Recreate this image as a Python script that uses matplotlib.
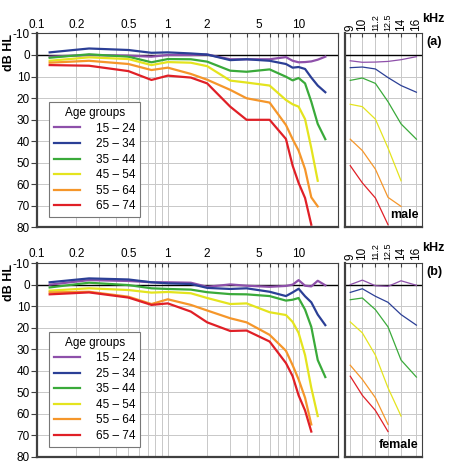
import matplotlib.pyplot as plt
from matplotlib.ticker import NullLocator

plt.rcParams['font.family'] = ['Liberation Sans', 'DejaVu Sans']
plt.rcParams['axes.unicode_minus'] = False

# audiometric frequencies (kHz)
freqs = [0.125, 0.25, 0.5, 0.75, 1, 1.5, 2, 3, 4, 6, 8, 9, 10, 11.2, 12.5, 14, 16]

age_groups = ["15 – 24", "25 – 34", "35 – 44", "45 – 54", "55 – 64", "65 – 74"]
colors = ["#8e50aa", "#2b3f96", "#3aaa3a", "#e4e41e", "#f5962a", "#e01f26"]

# male hearing thresholds (dB HL)
male_15_24 = [0.8, 0, 0.3, 0.8, 0, 0, -0.2, 2, 2, 2, 1, 2.7, 3.4, 3.3, 3.0, 2.2, 0.8]
male_25_34 = [-1.2, -3, -2.3, -1, -1.2, -0.7, -0.2, 2.4, 2, 2.7, 4.2, 5.9, 5.6, 6.5, 10.5, 14.2, 17.3]
male_35_44 = [1.3, -0.3, 0.8, 3.4, 1.9, 2, 3.1, 7.3, 7.8, 6.7, 10.1, 11.8, 10.7, 13.2, 21.7, 32, 39.1]
male_45_54 = [2.7, 1.1, 1.9, 4.7, 3.3, 3.6, 5.2, 11.9, 12.8, 14.2, 20.9, 22.9, 24, 29.8, 43.2, 58.4]
male_55_64 = [3.6, 2.7, 4.2, 7, 5.9, 8.8, 11.5, 16.2, 20.1, 22.1, 32.5, 39.1, 44.4, 53, 66.1, 70.3]
male_65_74 = [4.7, 5, 7.5, 11.6, 9.6, 10.5, 13.2, 24, 30.1, 30.1, 39, 51.4, 59.4, 66.4, 78.8]

# female hearing thresholds (dB HL)
female_15_24 = [0, -2.1, -1.7, -1.1, -1.1, -0.9, 1.0, -0.1, 0.5, 1.0, 0.6, 0, -2.1, 0.5, 0.8, -1.8, 0.3]
female_25_34 = [-1.1, -2.9, -2.4, -1.1, -0.6, -0.3, 1.5, 2, 1.7, 3.3, 5.3, 3.6, 1.9, 5.4, 8.2, 13.9, 18.8]
female_35_44 = [1.3, -0.9, 0.2, 1.7, 2, 2.3, 3.5, 4.4, 4.5, 5.3, 7.4, 7, 6.2, 11.6, 19.6, 35, 42.9]
female_45_54 = [2.8, 1.7, 2.5, 3.7, 3.4, 4, 6.2, 9, 8.7, 12.8, 14.1, 17.3, 22.4, 32.7, 47.9, 61]
female_55_64 = [3.6, 3.3, 5.6, 9, 6.8, 9.4, 12, 15.6, 17.5, 23.3, 30.7, 37.4, 44, 52.5, 64.9]
female_65_74 = [4.5, 3.6, 6, 9.4, 8.7, 12.5, 17.5, 21.5, 21.3, 26.4, 36.4, 42.5, 51.4, 58.4, 68.2]

male = [male_15_24, male_25_34, male_35_44, male_45_54, male_55_64, male_65_74]
female = [female_15_24, female_25_34, female_35_44, female_45_54, female_55_64, female_65_74]

main_ticks = [0.1, 0.2, 0.3, 0.4, 0.5, 0.6, 0.7, 0.8, 0.9,
              1, 2, 3, 4, 5, 6, 7, 8, 9, 10, 20]
main_labels = {0.1: "0.1", 0.2: "0.2", 0.5: "0.5", 1: "1", 2: "2", 5: "5", 10: "10"}
zoom_ticks = [9, 10, 11.2, 12.5, 14, 16]
zoom_labels = ["9", "10", "11.2", "12.5", "14", "16"]
db_ticks = list(range(-10, 90, 10))

grid_col = "#c8c8c8"
spine_col = "#404040"

fig = plt.figure(figsize=(4.5, 4.7), dpi=100)


def style(ax, main):
    ax.set_xscale("log")
    ax.set_ylim(80, -10)
    ax.set_yticks(db_ticks)
    ax.xaxis.set_minor_locator(NullLocator())
    ax.grid(True, color=grid_col, lw=0.7)
    ax.set_axisbelow(True)
    ax.axhline(0, color="black", lw=1.0, zorder=1.5)
    for s in ["left", "bottom"]:
        ax.spines[s].set_linewidth(1.6)
        ax.spines[s].set_color(spine_col)
    for s in ["top", "right"]:
        ax.spines[s].set_linewidth(0.8)
        ax.spines[s].set_color(spine_col)
    ax.tick_params(axis="x", top=True, bottom=False, labeltop=True,
                   labelbottom=False, direction="in", length=3, pad=2,
                   labelsize=8.5, color=spine_col)
    if main:
        ax.set_xlim(0.1, 20)
        ax.set_xticks(main_ticks, [main_labels.get(t, "") for t in main_ticks])
        ax.tick_params(axis="y", direction="out", length=4, pad=1,
                       labelsize=8.5, color=spine_col)
    else:
        ax.set_xlim(8.6, 16.8)
        ax.set_xticks(zoom_ticks, zoom_labels, rotation=90)
        for lab in ax.get_xticklabels():
            if "." in lab.get_text():
                lab.set_fontsize(6.5)
        ax.tick_params(axis="y", length=0, labelleft=False)
        ax.xaxis.set_minor_locator(NullLocator())


panels = [(male, 0.5164, "(a)", "male"), (female, 0.0277, "(b)", "female")]
for data, y0, tag, sex in panels:
    ax = fig.add_axes([0.0822, y0, 0.6689, 0.4125])
    axz = fig.add_axes([0.7667, y0, 0.1711, 0.4125])
    style(ax, True)
    style(axz, False)
    for vals, col, lab in zip(data, colors, age_groups):
        ax.plot(freqs[:len(vals)], vals, color=col, lw=1.6, label=lab)
        fz = [f for f in freqs[:len(vals)] if f >= 9]
        vz = [v for f, v in zip(freqs, vals) if f >= 9]
        axz.plot(fz, vz, color=col, lw=0.9)
    leg = ax.legend(title="Age groups", loc="lower left",
                    bbox_to_anchor=(0.04, 0.053), fancybox=False,
                    edgecolor="#777777", framealpha=1, fontsize=8.5,
                    title_fontsize=8.5, handlelength=2.2, labelspacing=0.3,
                    borderpad=0.4, handletextpad=1.4, borderaxespad=0)
    leg.get_frame().set_linewidth(0.8)
    axz.text(0.95, 0.03, sex, transform=axz.transAxes, ha="right",
             va="bottom", fontsize=9, fontweight="bold")
    axz.text(1.06, 0.955, tag, transform=axz.transAxes, ha="left",
             va="center", fontsize=9, fontweight="bold")
    axz.text(1.0, 1.045, "kHz", transform=axz.transAxes, ha="left",
             va="bottom", fontsize=9, fontweight="bold")
    ax.text(-0.092, 0.9, "dB HL", transform=ax.transAxes, rotation=90,
            ha="center", va="center", fontsize=9, fontweight="bold")

fig.savefig("out.png", dpi=100)
